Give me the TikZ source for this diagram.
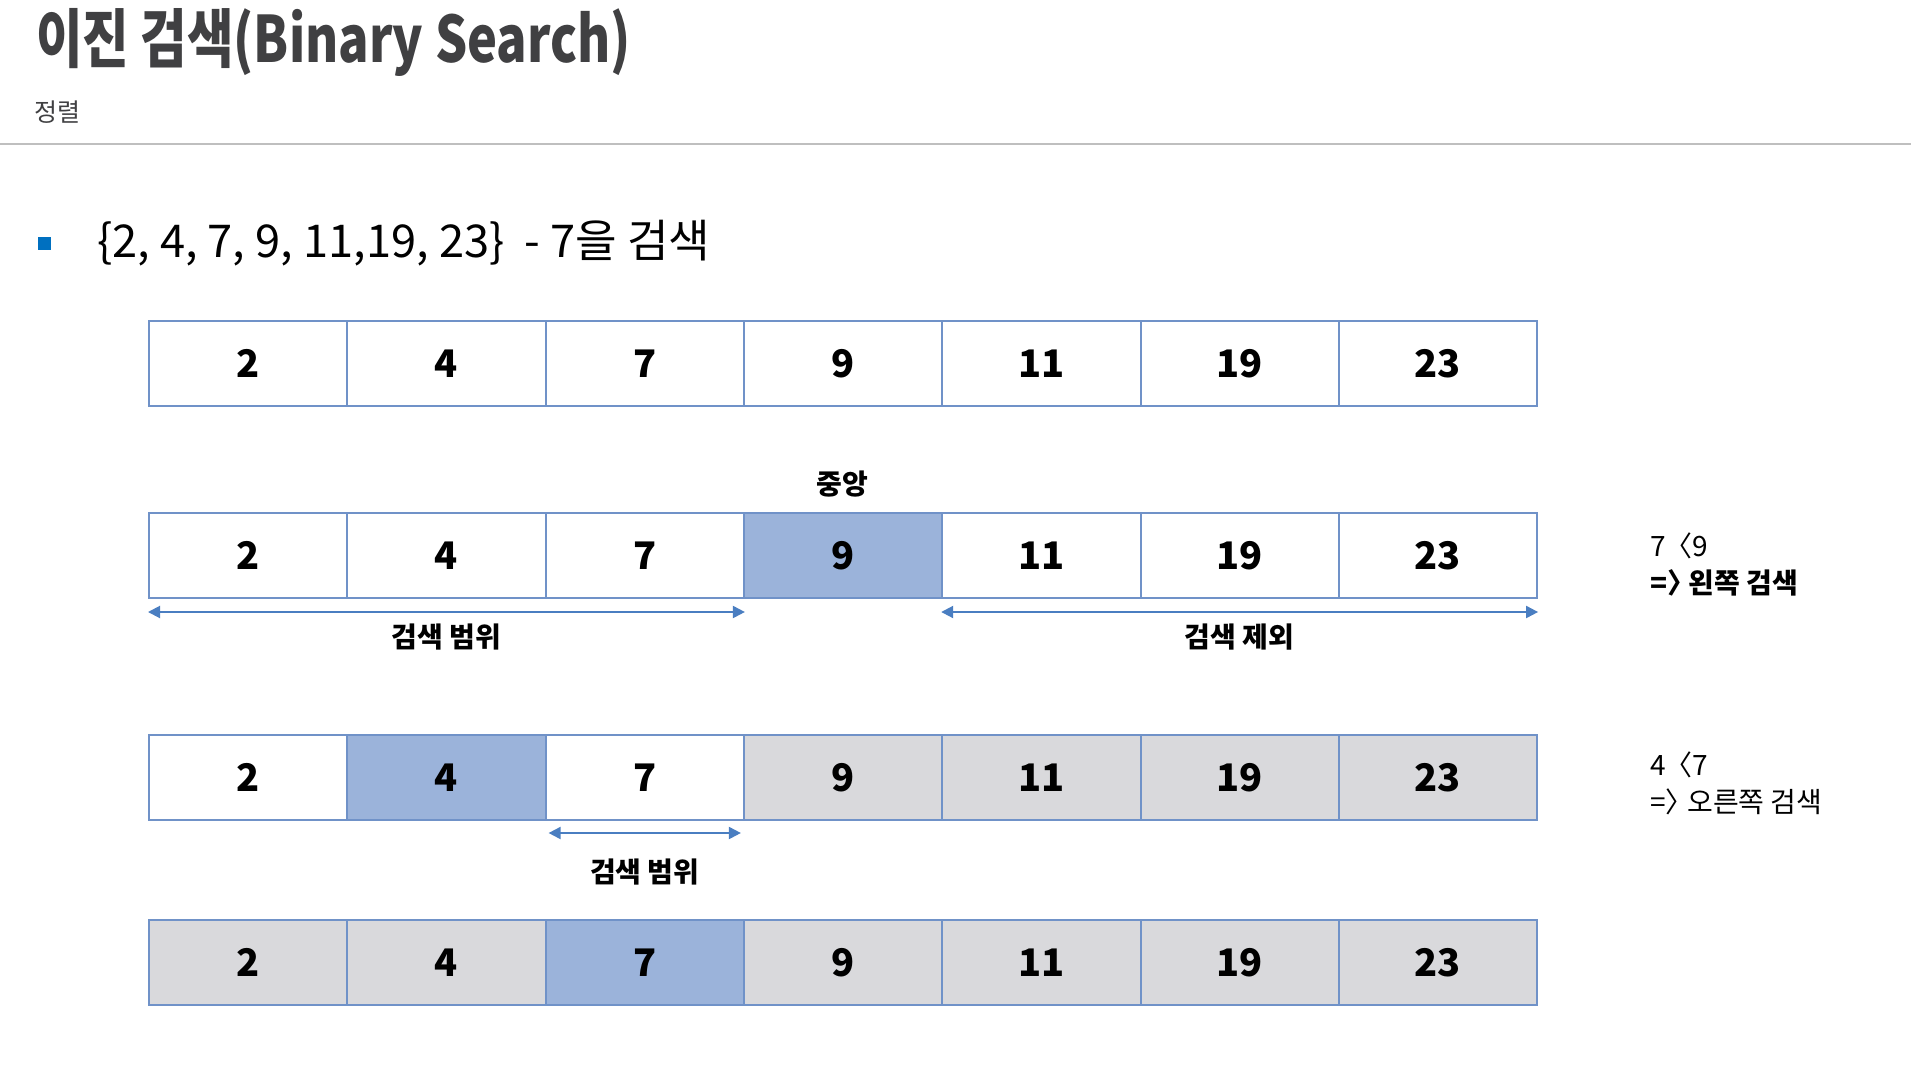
\documentclass[tikz,border=0pt]{standalone}
\usepackage{fontspec}
\setmainfont{Noto Sans CJK KR}
\usetikzlibrary{arrows,arrows.meta}
\definecolor{cellline}{RGB}{112,146,200}
\definecolor{midblue}{RGB}{155,179,218}
\definecolor{outgray}{RGB}{217,217,220}
\definecolor{arrowblue}{RGB}{74,126,193}
\definecolor{bulletblue}{RGB}{0,112,192}
\definecolor{titlegray}{RGB}{64,64,66}
\definecolor{rulegray}{RGB}{191,191,191}
\tikzstyle{cell} = [rectangle,minimum width=99.15pt,minimum height=42.5pt,inner sep=0pt,draw=cellline,line width=1pt,fill=white,font=\fontsize{19pt}{19pt}\selectfont\bfseries]
\tikzstyle{midcell} = [cell,fill=midblue]
\tikzstyle{outcell} = [cell,fill=outgray]
\tikzstyle{tag} = [font=\fontsize{14pt}{14pt}\selectfont\bfseries]
\tikzstyle{note} = [anchor=west,align=left,font=\fontsize{14pt}{18.5pt}\selectfont]
\tikzstyle{rangearrow} = [line width=1pt,{Triangle[length=6pt,width=6pt]}-{Triangle[length=6pt,width=6pt]},draw=arrowblue]

\begin{document}
\begin{tikzpicture}[x=0.5pt,y=-0.5pt,node distance=99.15pt]
				\path [use as bounding box,fill=white] (0,0) rectangle (1911,1066);
				\node (title) [anchor=west,text=titlegray,font=\fontsize{32pt}{32pt}\selectfont\bfseries] at (29,42) {\scalebox{0.79}[1]{이진 검색(Binary Search)}};
				\node (sub) [anchor=west,text=titlegray,font=\fontsize{12.5pt}{12.5pt}\selectfont] at (27,112) {정렬};
				\draw [line width=1pt,draw=rulegray] (0,144) -- (1911,144);
				\node (dot) [rectangle,fill=bulletblue,minimum size=6.5pt,inner sep=0pt] at (44,243) {};
				\node (set) [anchor=west,font=\fontsize{22.6pt}{22.6pt}\selectfont] at (90,243) {\{2, 4, 7, 9, 11,19, 23\}\ \ - 7을 검색};

				\node (a1) [cell] at (248.15,363.5) {2};
				\node (a2) [cell, right of=a1] {4};
				\node (a3) [cell, right of=a2] {7};
				\node (a4) [cell, right of=a3] {9};
				\node (a5) [cell, right of=a4] {11};
				\node (a6) [cell, right of=a5] {19};
				\node (a7) [cell, right of=a6] {23};

				\node (mid) [tag] at (842,484) {중앙};
				\node (b1) [cell] at (248.15,555.5) {2};
				\node (b2) [cell, right of=b1] {4};
				\node (b3) [cell, right of=b2] {7};
				\node (b4) [midcell, right of=b3] {9};
				\node (b5) [cell, right of=b4] {11};
				\node (b6) [cell, right of=b5] {19};
				\node (b7) [cell, right of=b6] {23};
				\node (cmp1) [note] at (1643,564.5) {7\kern-0.25em{} 〈9\\\textbf{=〉\kern-0.45em{} 왼쪽 검색}};

				\node (c1) [cell] at (248.15,777.5) {2};
				\node (c2) [midcell, right of=c1] {4};
				\node (c3) [cell, right of=c2] {7};
				\node (c4) [outcell, right of=c3] {9};
				\node (c5) [outcell, right of=c4] {11};
				\node (c6) [outcell, right of=c5] {19};
				\node (c7) [outcell, right of=c6] {23};
				\node (cmp2) [note] at (1643,783.5) {4\kern-0.25em{} 〈7\\=〉\kern-0.45em{} 오른쪽 검색};

				\node (d1) [outcell] at (248.15,962.5) {2};
				\node (d2) [outcell, right of=d1] {4};
				\node (d3) [midcell, right of=d2] {7};
				\node (d4) [outcell, right of=d3] {9};
				\node (d5) [outcell, right of=d4] {11};
				\node (d6) [outcell, right of=d5] {19};
				\node (d7) [outcell, right of=d6] {23};

				%검색 범위 화살표
				\draw [rangearrow]([yshift=-6.5pt]b1.south west) -- node (keep) [tag,below=2pt,text=black]{검색 범위}([yshift=-6.5pt]b3.south east);
				\draw [rangearrow]([yshift=-6.5pt]b5.south west) -- node (drop) [tag,below=2pt,text=black]{검색 제외}([yshift=-6.5pt]b7.south east);
				\draw [rangearrow,shorten <=2pt,shorten >=2pt]([yshift=-6pt]c3.south west) -- node (keep2) [tag,below=9pt,text=black]{검색 범위}([yshift=-6pt]c3.south east);

			\end{tikzpicture}
\end{document}
